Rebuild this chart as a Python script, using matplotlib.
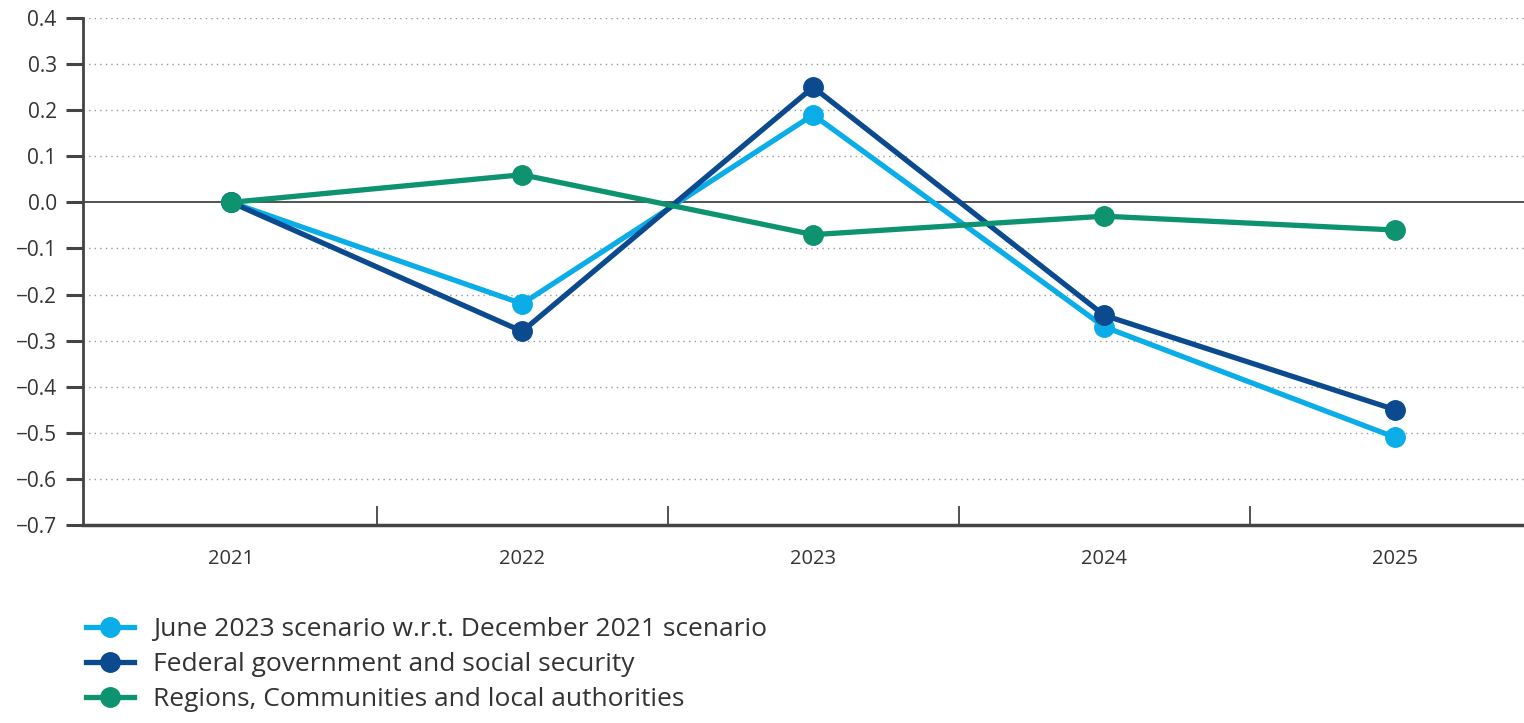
import matplotlib.pyplot as plt
from matplotlib.ticker import FixedLocator, NullFormatter

years = ['2021', '2022', '2023', '2024', '2025']
june_2023 = [0.0, -0.22, 0.19, -0.27, -0.51]
federal = [0.0, -0.28, 0.25, -0.245, -0.45]
regions = [0.0, 0.06, -0.07, -0.03, -0.06]

labels = ['June 2023 scenario w.r.t. December 2021 scenario',
          'Federal government and social security',
          'Regions, Communities and local authorities']
colors = ['#0AADE8', '#0B4A8E', '#0E9371']

plt.rcParams['font.family'] = ['Open Sans', 'DejaVu Sans']
text_col = '#333333'

fig = plt.figure(figsize=(15.24, 7.23), dpi=100)
ax = fig.add_axes([0.0545, 0.274, 0.9455, 0.701])

x = range(len(years))
for vals, col, lab in zip([june_2023, federal, regions], colors, labels):
    ax.plot(x, vals, '-o', color=col, lw=3.8, ms=14, label=lab, zorder=3)

ax.axhline(0, color='#444444', lw=1.3, zorder=2)

ax.set_xlim(-0.509, 4.443)
ax.set_ylim(-0.7, 0.4)

# y ticks every 0.1, dotted grid except at zero and the floor
yt = [round(-0.7 + 0.1 * i, 1) for i in range(12)]
ax.set_yticks(yt)
ax.set_yticklabels([f'{v:.1f}'.replace('-', '\u2212') for v in yt],
                   fontsize=15, color=text_col)
for v in yt:
    if v not in (0.0, -0.7):
        ax.axhline(v, color='#999999', lw=1.0, ls=(0, (1, 3)), zorder=1)

ax.set_xticks(list(x))
ax.set_xticklabels(years, fontsize=14.5, color=text_col)
ax.tick_params(axis='x', which='major', length=0, pad=17)
ax.xaxis.set_minor_locator(FixedLocator([0.5, 1.5, 2.5, 3.5]))
ax.xaxis.set_minor_formatter(NullFormatter())
ax.tick_params(axis='x', which='minor', direction='in', length=14,
               width=1.3, color='#444444')
ax.tick_params(axis='y', direction='out', length=12, width=2.2,
               color='#444444', pad=7)

for s in ['top', 'right']:
    ax.spines[s].set_visible(False)
ax.spines['left'].set_color('#444444')
ax.spines['left'].set_linewidth(2.0)
ax.spines['bottom'].set_color('#444444')
ax.spines['bottom'].set_linewidth(2.5)

leg = fig.legend(loc='upper left', bbox_to_anchor=(0.0496, 0.161),
                 frameon=False, fontsize=19, handlelength=1.8,
                 handletextpad=0.75, labelspacing=0.38, borderaxespad=0)
for t in leg.get_texts():
    t.set_color(text_col)

fig.savefig('out.png', dpi=100)
